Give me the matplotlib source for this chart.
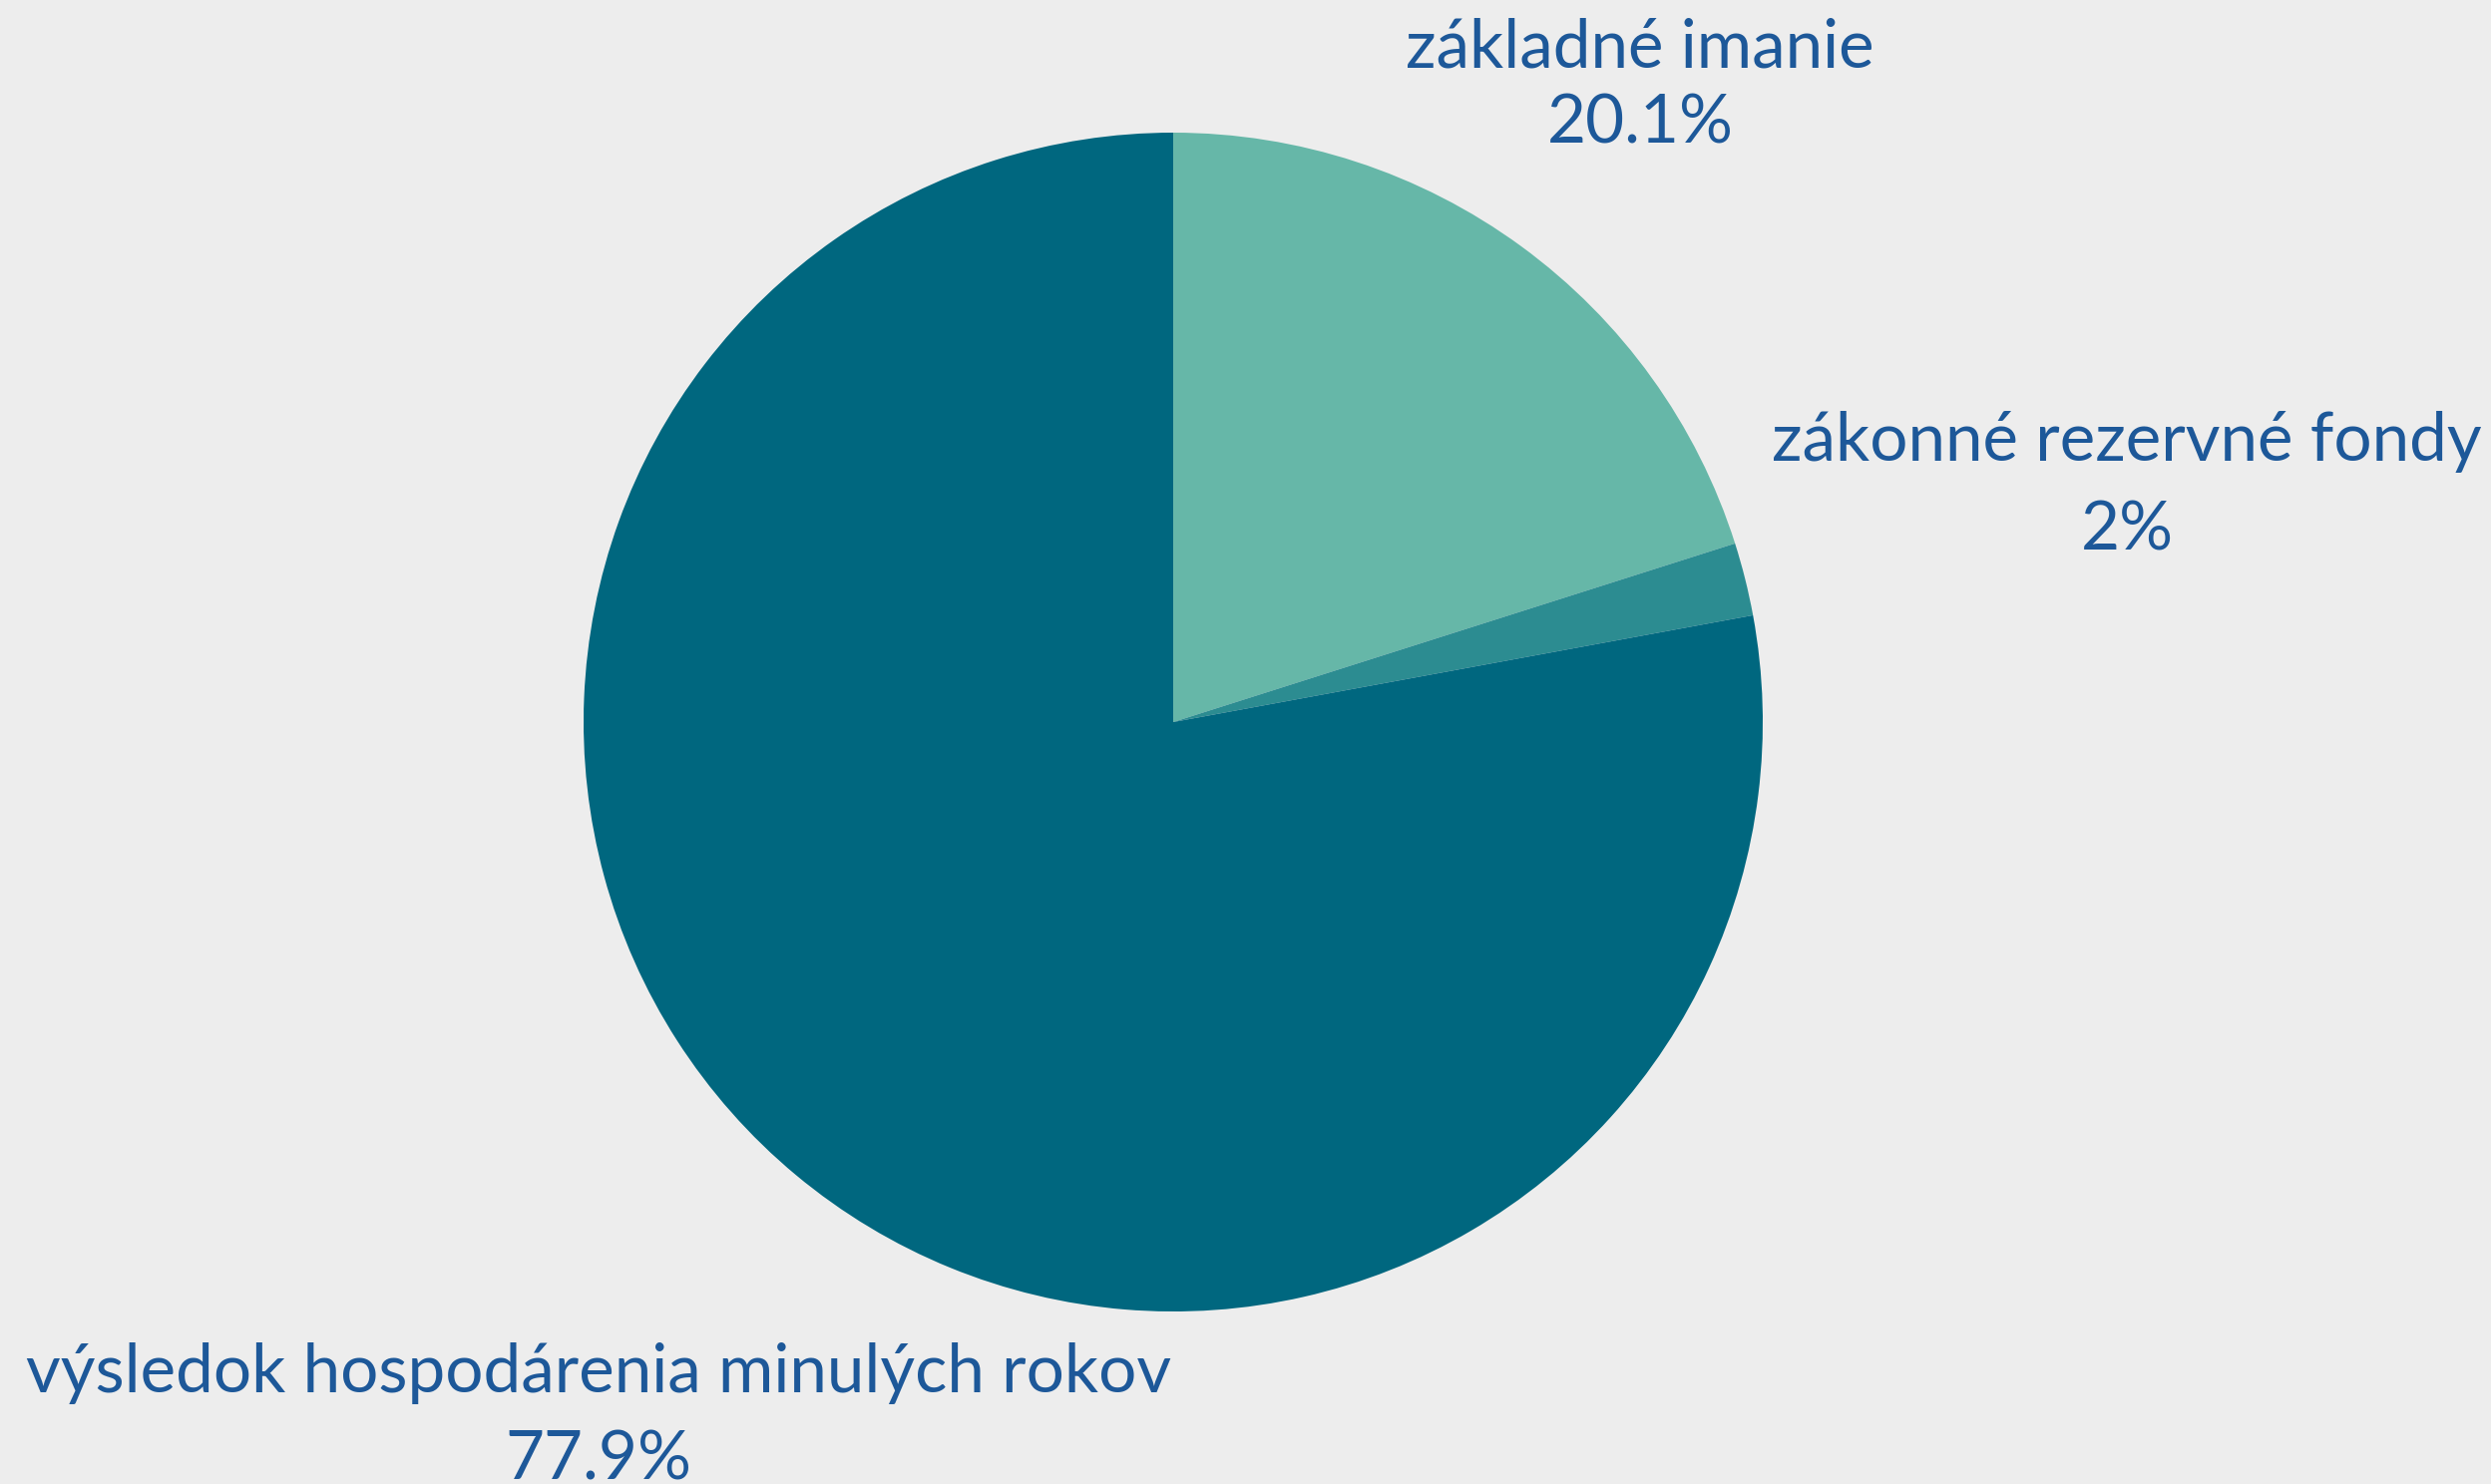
import matplotlib
matplotlib.use("Agg")
import matplotlib.pyplot as plt

categories = ["základné imanie", "zákonné rezervné fondy", "výsledok hospodárenia minulých rokov"]
values = [20.1, 2.0, 77.9]
pct_labels = ["20.1%", "2%", "77.9%"]
colors = ["#66b7a8", "#2c8c91", "#00677f"]

W, H = 2497, 1488
bg = "#ededed"
txt_color = "#1d5899"

fig = plt.figure(figsize=(W / 100, H / 100), dpi=100, facecolor=bg)
cx, cy, r = 1176, 724, 591
ax = fig.add_axes([(cx - r) / W, 1 - (cy + r) / H, 2 * r / W, 2 * r / H])
ax.set_facecolor(bg)
ax.pie(values, colors=colors, startangle=90, counterclock=False, radius=1,
       wedgeprops=dict(linewidth=0))
ax.set_xlim(-1, 1)
ax.set_ylim(-1, 1)
ax.set_aspect("equal")
ax.axis("off")

# label positions in pixels (center x, baseline y for name, baseline y for pct)
label_pos = [(1644, 68, 143), (2132, 462, 551), (600, 1396, 1484)]
font = dict(family=["Lato", "DejaVu Sans"], fontsize=48.5, color=txt_color)
for name, pct, (x, yb1, yb2) in zip(categories, pct_labels, label_pos):
    fig.text(x / W, 1 - yb1 / H, name, ha="center", va="baseline", **font)
    fig.text(x / W, 1 - yb2 / H, pct, ha="center", va="baseline", **font)

fig.savefig("out.png", dpi=100, facecolor=bg)
